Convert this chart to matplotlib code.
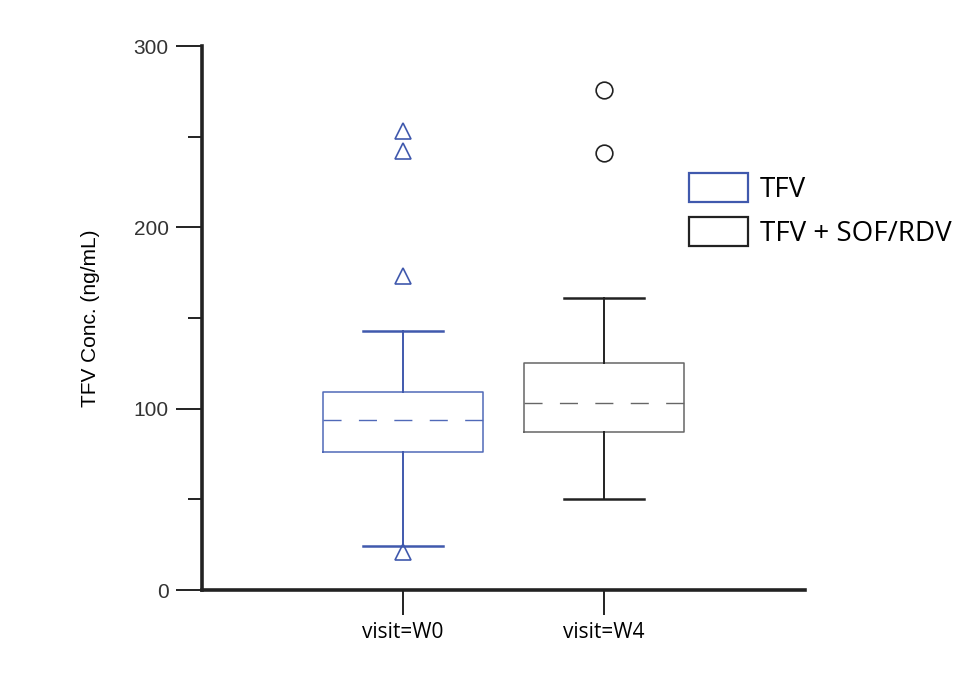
import matplotlib.pyplot as plt
from matplotlib.patches import Patch

# TFV concentration summary per visit (ng/mL)
visits = ["visit=W0", "visit=W4"]
series = ["TFV", "TFV + SOF/RDV"]
whis_lo = [24, 50]
q1 = [76, 87]
med = [94, 103]
q3 = [109, 125]
whis_hi = [143, 161]
outliers = [[21, 173, 242, 253], [241, 276]]

colors = ["#4059ad", "#222222"]
box_edges = ["#5069b8", "#666666"]
markers = ["^", "o"]

fig = plt.figure(figsize=(9.57, 6.76), dpi=100)
ax = fig.add_axes([202 / 957, 86 / 676, 603 / 957, 544 / 676])

for i in range(len(visits)):
    stats = [dict(whislo=whis_lo[i], q1=q1[i], med=med[i], q3=q3[i],
                  whishi=whis_hi[i], fliers=outliers[i], label=visits[i])]
    ax.bxp(stats, positions=[i + 1], widths=0.8, showfliers=True,
           boxprops=dict(color=box_edges[i], linewidth=1.1),
           whiskerprops=dict(color=colors[i], linewidth=1.4),
           capprops=dict(color=colors[i], linewidth=1.8),
           capwidths=0.4,
           medianprops=dict(color=box_edges[i], linewidth=1.0,
                            linestyle=(0, (13, 12.5))),
           flierprops=dict(marker=markers[i], markersize=12,
                           markerfacecolor="none", markeredgecolor=colors[i],
                           markeredgewidth=1.2))

ax.set_xlim(0, 3)
ax.set_ylim(0, 300)
ax.set_xticks([1, 2])
ax.set_xticklabels(visits, family="Open Sans", fontsize=15)
ax.set_yticks([0, 100, 200, 300])
ax.set_yticks([50, 150, 250], minor=True)
ax.tick_params(axis="y", which="major", direction="out", length=19,
               width=1.4, color="#222222", labelsize=15, pad=5)
ax.tick_params(axis="y", which="minor", direction="out", length=10,
               width=1.4, color="#222222")
ax.tick_params(axis="x", direction="out", length=18, width=1.4,
               color="#222222", pad=5)
for lbl in ax.get_yticklabels():
    lbl.set_family("Liberation Sans")
    lbl.set_color("#333333")

ax.set_ylabel("TFV Conc. (ng/mL)", family="Liberation Sans", fontsize=15,
              labelpad=24)
for side in ["top", "right"]:
    ax.spines[side].set_visible(False)
for side in ["left", "bottom"]:
    ax.spines[side].set_linewidth(2.6)
    ax.spines[side].set_color("#222222")

handles = [Patch(facecolor="white", edgecolor=colors[0], linewidth=1.6),
           Patch(facecolor="white", edgecolor=colors[1], linewidth=1.6)]
leg = ax.legend(handles, series, loc="upper left",
                bbox_to_anchor=(689 / 957, 1 - 173 / 676),
                bbox_transform=fig.transFigure, frameon=False,
                handlelength=2.12, handleheight=1.25, handletextpad=0.43,
                labelspacing=0.45, borderaxespad=0, borderpad=0,
                prop=dict(family="Open Sans", size=20))

fig.savefig("out.png", dpi=100)
